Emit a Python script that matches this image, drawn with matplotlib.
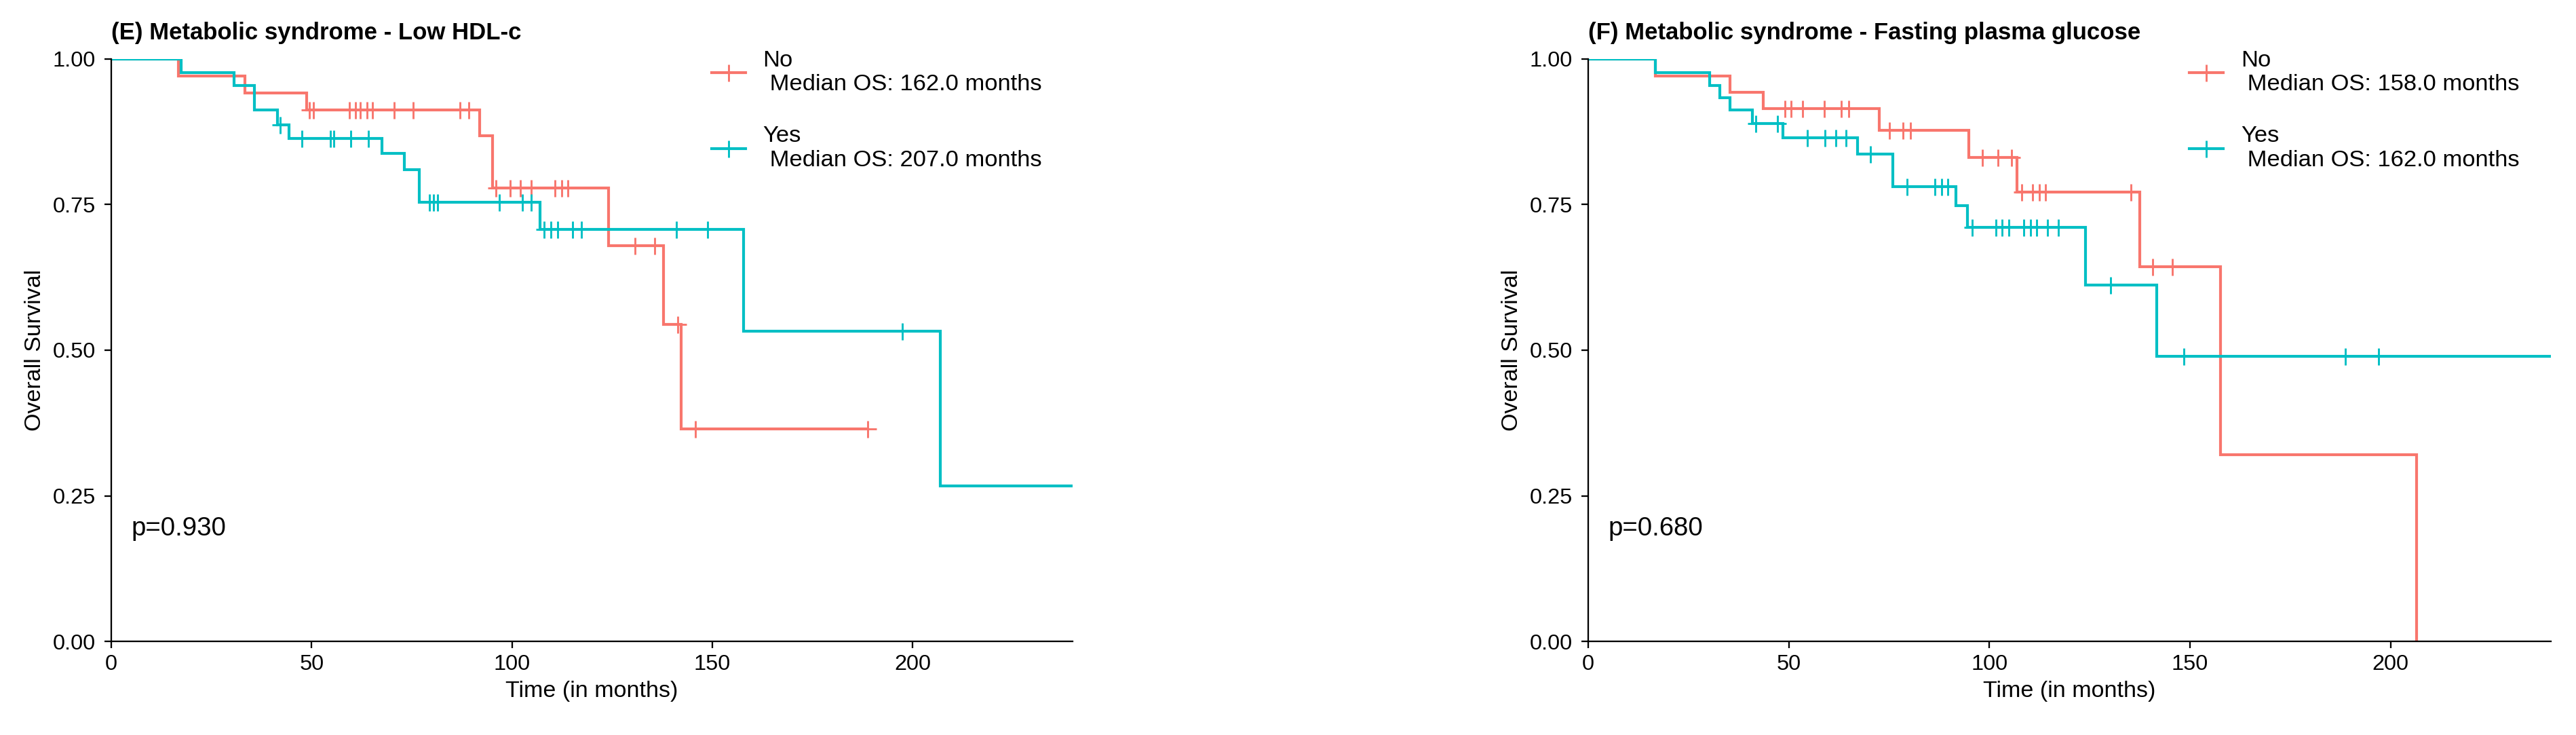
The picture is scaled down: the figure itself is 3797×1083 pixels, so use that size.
import numpy as np
import matplotlib
matplotlib.use("Agg")
import matplotlib.pyplot as plt

plt.rcParams['font.family'] = ['Liberation Sans', 'DejaVu Sans']

# colours used by ggplot for two groups
RED = '#F8766D'
TEAL = '#00BFC4'

# ---- (E) Low HDL-c ----
e_no_time = [0, 16.8, 33.4, 48.7, 91.9, 95.2, 124.1, 137.8, 142.3]
e_no_surv = [1.0, 0.971, 0.942, 0.912, 0.868, 0.779, 0.679, 0.544, 0.365]
e_no_cens = [49.4, 50.5, 59.5, 60.9, 62.2, 63.8, 65.2, 70.6, 75.4, 87.1, 89.2,
             96.0, 99.5, 102.2, 104.9, 110.8, 112.4, 114.0, 130.8, 135.7,
             141.4, 145.8, 188.8]
e_no_end = 188.8

e_yes_time = [0, 17.4, 30.7, 35.8, 41.5, 44.4, 67.6, 73.2, 76.8, 107.0, 157.8, 206.9]
e_yes_surv = [1.0, 0.977, 0.955, 0.912, 0.887, 0.864, 0.838, 0.810, 0.754, 0.707, 0.533, 0.267]
e_yes_cens = [42.2, 47.6, 54.7, 55.5, 59.8, 64.2, 79.5, 80.5, 81.5, 96.8, 102.7,
              104.9, 108.1, 109.8, 111.4, 115.1, 117.3, 141.1, 148.8, 197.4]
e_yes_end = 240

# ---- (F) Fasting plasma glucose ----
f_no_time = [0, 16.7, 35.3, 43.7, 72.5, 94.8, 106.8, 137.5, 157.6, 206.5]
f_no_surv = [1.0, 0.971, 0.943, 0.915, 0.878, 0.831, 0.771, 0.643, 0.321, 0.0]
f_no_cens = [49.1, 50.6, 53.4, 58.8, 63.1, 64.9, 75.0, 78.4, 80.4, 98.3, 102.1,
             105.5, 108.1, 110.8, 112.4, 114.0, 135.3, 140.7, 145.6]
f_no_end = 206.5

f_yes_time = [0, 16.7, 30.2, 32.8, 35.3, 41.0, 48.5, 67.1, 76.0, 91.6, 94.6, 123.9, 141.8]
f_yes_surv = [1.0, 0.977, 0.955, 0.934, 0.912, 0.889, 0.865, 0.837, 0.781, 0.748,
              0.711, 0.612, 0.490]
f_yes_cens = [41.8, 47.2, 54.7, 59.0, 61.7, 64.2, 70.3, 79.5, 86.5, 88.1, 89.7, 95.7,
              101.6, 103.2, 104.8, 108.6, 110.2, 111.8, 114.5, 117.2, 130.3, 148.5,
              188.7, 197.1]
f_yes_end = 240

titles = ["(E) Metabolic syndrome - Low HDL-c",
          "(F) Metabolic syndrome - Fasting plasma glucose"]
pvals = ["p=0.930", "p=0.680"]
medians = [("162.0", "207.0"), ("158.0", "162.0")]
groups = ["No", "Yes"]


def surv_at(times, surv, t):
    idx = np.searchsorted(times, t, side='right') - 1
    return np.asarray(surv)[idx]


def km_curve(ax, times, surv, cens, end, color, label):
    x = list(times) + [end]
    y = list(surv) + [surv[-1]]
    ax.step(x, y, where='post', color=color, lw=3.0, solid_joinstyle='miter')
    ax.plot(cens, surv_at(times, surv, cens), ls='none', marker='+', ms=18,
            mew=2.1, color=color)
    # legend proxy
    ax.plot([], [], color=color, lw=3.0, marker='+', ms=18, mew=2.1, label=label)


fig = plt.figure(figsize=(37.98, 10.83), dpi=100)
axE = fig.add_axes([0.0432, 0.1274, 0.3731, 0.7923])
axF = fig.add_axes([0.6164, 0.1274, 0.3736, 0.7923])

panels = [
    (axE, [(e_no_time, e_no_surv, e_no_cens, e_no_end), (e_yes_time, e_yes_surv, e_yes_cens, e_yes_end)]),
    (axF, [(f_no_time, f_no_surv, f_no_cens, f_no_end), (f_yes_time, f_yes_surv, f_yes_cens, f_yes_end)]),
]

for i, (ax, curves) in enumerate(panels):
    for (tm, sv, cn, end), col, grp, med in zip(curves, [RED, TEAL], groups, medians[i]):
        km_curve(ax, tm, sv, cn, end, col, f"{grp}\n Median OS: {med} months")

    ax.set_xlim(0, 240)
    ax.set_ylim(0, 1)
    ax.set_xticks([0, 50, 100, 150, 200])
    ax.set_yticks([0, 0.25, 0.5, 0.75, 1.0])
    ax.set_yticklabels(["0.00", "0.25", "0.50", "0.75", "1.00"])
    ax.spines['top'].set_visible(False)
    ax.spines['right'].set_visible(False)
    for s in ['left', 'bottom']:
        ax.spines[s].set_linewidth(1.65)
    ax.tick_params(axis='both', length=7, width=1.65, labelsize=23.4)
    ax.tick_params(axis='y', pad=9.5)
    ax.tick_params(axis='x', pad=7)

    ax.set_xlabel("Time (in months)", fontsize=24.5, labelpad=6)
    ax.set_ylabel("Overall Survival", fontsize=24.5, labelpad=8)
    ax.set_title(titles[i], loc='left', fontsize=25, fontweight='bold', pad=21)
    ax.text(5, 0.182, pvals[i], fontsize=27.6, ha='left', va='baseline')

    ax.legend(loc='upper left', bbox_to_anchor=(0.6246, 1.0155), frameon=False,
              fontsize=24.8, handlelength=1.45, handletextpad=0.74,
              labelspacing=1.30, borderpad=0, borderaxespad=0, numpoints=1)

fig.savefig("out.png", dpi=100)
